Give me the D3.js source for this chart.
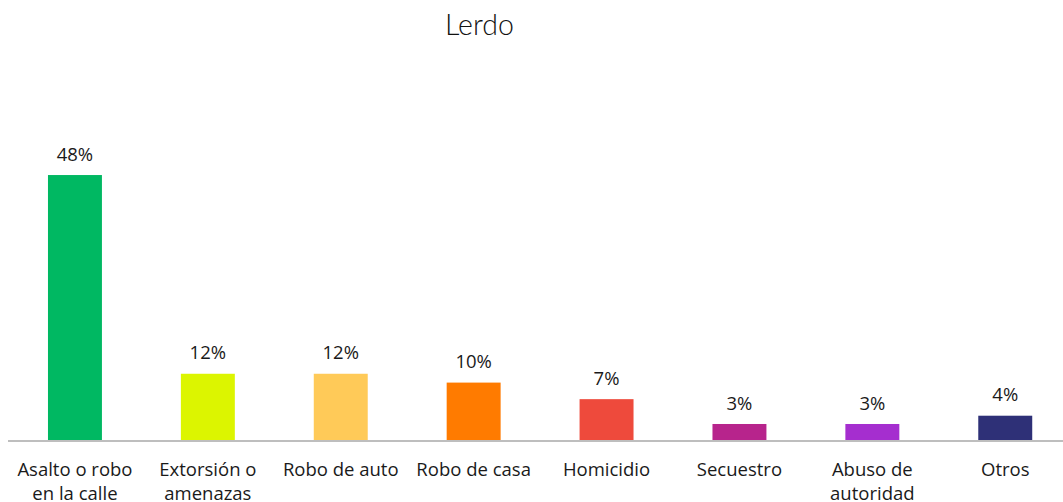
<!DOCTYPE html>
<html>
<head>
<meta charset="utf-8">
<script src="https://cdn.jsdelivr.net/npm/d3@7"></script>
<style>
  body { margin: 0; background: #fff; }
  svg { display: block; }
</style>
</head>
<body>
<svg id="chart" width="1063" height="502"></svg>
<script>
// data
const categories = [
  ["Asalto o robo", "en la calle"],
  ["Extorsión o", "amenazas"],
  ["Robo de auto"],
  ["Robo de casa"],
  ["Homicidio"],
  ["Secuestro"],
  ["Abuso de", "autoridad"],
  ["Otros"]
];
const values = [48.0, 12.0, 12.0, 10.4, 7.4, 2.9, 2.9, 4.4];
const colors = ["#00b862", "#dcf500", "#ffca58", "#ff7b00", "#ee4a3c", "#b7248c", "#a52ecf", "#2e3077"];
const title = "Lerdo";

const svg = d3.select("#chart");
const baseY = 440;

const x = d3.scaleBand()
  .domain(d3.range(values.length))
  .range([8.5, 1071.7])
  .paddingInner(0.594)
  .paddingOuter(0.297);

const y = d3.scaleLinear()
  .domain([0, 50])
  .range([baseY, baseY - 276]);

// title
svg.append("text")
  .attr("x", 479.5)
  .attr("y", 34.5)
  .attr("text-anchor", "middle")
  .style("font-family", "Lato, Roboto, sans-serif")
  .style("font-weight", 300)
  .style("font-size", "28.5px")
  .style("fill", "#111")
  .text(title);

// bars
svg.selectAll("rect.bar")
  .data(values)
  .enter()
  .append("rect")
  .attr("class", "bar")
  .attr("x", (d, i) => x(i))
  .attr("y", d => y(d))
  .attr("width", x.bandwidth())
  .attr("height", d => y(0) - y(d))
  .attr("fill", (d, i) => colors[i]);

// value labels
svg.selectAll("text.val")
  .data(values)
  .enter()
  .append("text")
  .attr("class", "val")
  .attr("x", (d, i) => x(i) + x.bandwidth() / 2)
  .attr("y", d => y(d) - 14.3)
  .attr("text-anchor", "middle")
  .style("font-family", "'Open Sans', sans-serif")
  .style("font-size", "18.5px")
  .style("fill", "#1a1a1a")
  .text(d => Math.round(d) + "%");

// baseline
svg.append("line")
  .attr("x1", 8)
  .attr("x2", 1063)
  .attr("y1", baseY + 1)
  .attr("y2", baseY + 1)
  .attr("stroke", "#a8a8a8")
  .attr("stroke-width", 1.6);

// category labels
const labels = svg.selectAll("text.cat")
  .data(categories)
  .enter()
  .append("text")
  .attr("class", "cat")
  .attr("text-anchor", "middle")
  .style("font-family", "'Open Sans', sans-serif")
  .style("font-size", "18.5px")
  .style("fill", "#1a1a1a");

labels.each(function (lines, i) {
  const cx = x(i) + x.bandwidth() / 2;
  lines.forEach((line, j) => {
    d3.select(this).append("tspan")
      .attr("x", cx)
      .attr("y", 476 + j * 23.5)
      .text(line);
  });
});
</script>
</body>
</html>
